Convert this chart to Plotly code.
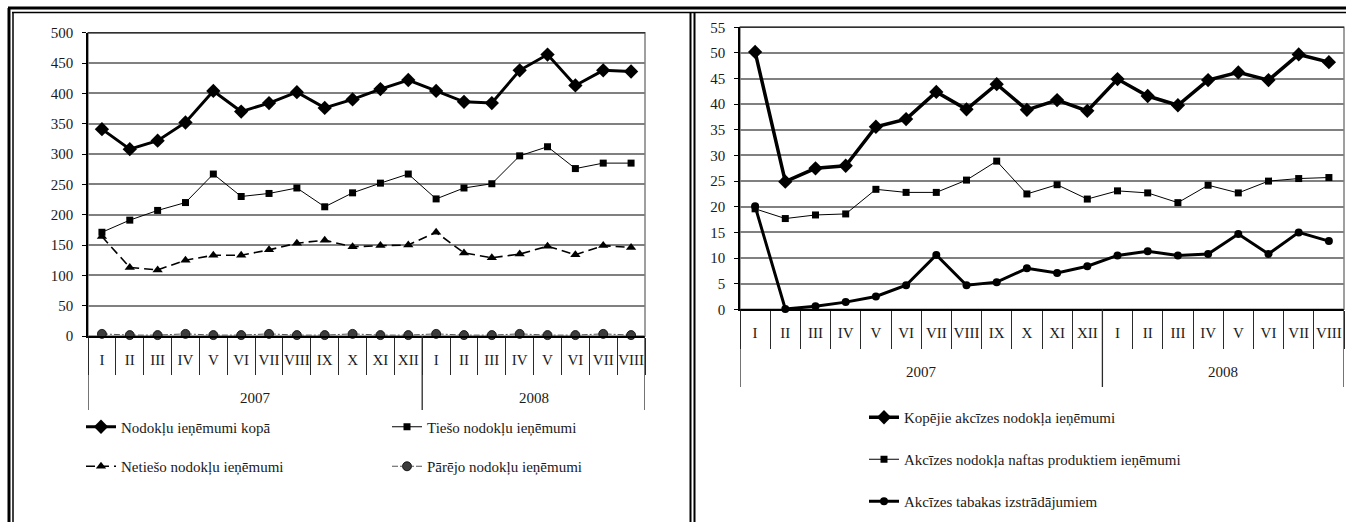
import plotly.graph_objects as go

W, H = 1346, 522

# ---------------- data ----------------
months = ["I", "II", "III", "IV", "V", "VI", "VII", "VIII", "IX", "X", "XI", "XII",
          "I", "II", "III", "IV", "V", "VI", "VII", "VIII"]
years = ["2007", "2008"]
year_counts = [12, 8]

# left chart
tax_total = [341, 308, 322, 352, 404, 370, 384, 402, 376, 390, 407, 422,
             404, 386, 384, 438, 464, 413, 438, 436]
tax_direct = [171, 191, 207, 220, 267, 230, 235, 244, 213, 236, 252, 267,
              226, 244, 251, 297, 312, 276, 285, 285]
tax_indirect = [164, 113, 109, 125, 133, 133, 142, 153, 158, 147, 149, 150,
                171, 137, 129, 135, 148, 134, 149, 146]
tax_other = [3.5, 1.5, 1.5, 3.5, 1.5, 1.5, 3.5, 1.5, 1.5, 3.5, 1.5, 1.5,
             3.5, 1.5, 1.5, 3.5, 1.5, 1.5, 3.5, 1.5]

# right chart
excise_total = [50.2, 24.9, 27.5, 28.0, 35.6, 37.1, 42.4, 39.0, 43.9, 38.9, 40.8, 38.7,
                44.9, 41.6, 39.8, 44.7, 46.2, 44.7, 49.7, 48.2]
excise_oil = [19.6, 17.7, 18.4, 18.6, 23.4, 22.8, 22.8, 25.2, 28.9, 22.5, 24.3, 21.5,
              23.1, 22.7, 20.8, 24.2, 22.7, 25.0, 25.5, 25.7]
excise_tobacco = [20.1, 0.06, 0.6, 1.4, 2.5, 4.7, 10.6, 4.7, 5.3, 8.0, 7.1, 8.4,
                  10.5, 11.3, 10.5, 10.8, 14.7, 10.8, 15.0, 13.3]

left_names = ["Nodokļu ieņēmumi kopā", "Tiešo nodokļu ieņēmumi",
              "Netiešo nodokļu ieņēmumi", "Pārējo nodokļu ieņēmumi"]
right_names = ["Kopējie akcīzes nodokļa ieņēmumi",
               "Akcīzes nodokļa naftas produktiem ieņēmumi",
               "Akcīzes tabakas izstrādājumiem"]

# ---------------- helpers ----------------
def fx(p):
    return p / W

def fy(p):
    return 1 - p / H

FONT = "Liberation Serif"
TXT = "#1a1a1a"
xs = list(range(len(months)))

fig = go.Figure()

# left traces
fig.add_trace(go.Scatter(x=xs, y=tax_total, name=left_names[0], mode="lines+markers",
                         line=dict(color="black", width=3),
                         marker=dict(symbol="diamond", size=11, color="black"),
                         xaxis="x", yaxis="y", legend="legend", legendgroup="a", cliponaxis=False))
fig.add_trace(go.Scatter(x=xs, y=tax_direct, name=left_names[1], mode="lines+markers",
                         line=dict(color="black", width=1),
                         marker=dict(symbol="square", size=7, color="black"),
                         xaxis="x", yaxis="y", legend="legend2", legendgroup="b", cliponaxis=False))
fig.add_trace(go.Scatter(x=xs, y=tax_indirect, name=left_names[2], mode="lines+markers",
                         line=dict(color="black", width=1.6, dash="9px,5px"),
                         marker=dict(symbol="triangle-up", size=9, color="black"),
                         xaxis="x", yaxis="y", legend="legend", legendgroup="c", cliponaxis=False))
fig.add_trace(go.Scatter(x=xs, y=tax_other, name=left_names[3], mode="lines+markers",
                         line=dict(color="#555555", width=1, dash="6px,2px,2px,2px"),
                         marker=dict(symbol="circle", size=9, color="#3c3c3c",
                                     line=dict(color="black", width=0.8)),
                         xaxis="x", yaxis="y", legend="legend2", legendgroup="d", cliponaxis=False))

# right traces
fig.add_trace(go.Scatter(x=xs, y=excise_total, name=right_names[0], mode="lines+markers",
                         line=dict(color="black", width=3.5),
                         marker=dict(symbol="diamond", size=11, color="black"),
                         xaxis="x2", yaxis="y2", legend="legend3", legendgroup="e", cliponaxis=False))
fig.add_trace(go.Scatter(x=xs, y=excise_oil, name=right_names[1], mode="lines+markers",
                         line=dict(color="black", width=1),
                         marker=dict(symbol="square", size=7, color="black"),
                         xaxis="x2", yaxis="y2", legend="legend3", legendgroup="f", cliponaxis=False))
fig.add_trace(go.Scatter(x=xs, y=excise_tobacco, name=right_names[2], mode="lines+markers",
                         line=dict(color="black", width=3),
                         marker=dict(symbol="circle", size=8, color="black"),
                         xaxis="x2", yaxis="y2", legend="legend3", legendgroup="g", cliponaxis=False))

# ---------------- axes ----------------
L = dict(x0=88, x1=645, ytop=32.7, ybot=336, tick_end=373, div_end=410, year_y=398)
R = dict(x0=740, x1=1344, ytop=27.3, ybot=309.3, tick_end=347, div_end=387, year_y=372)

def xaxis_cfg(P, anchor):
    return dict(domain=[fx(P["x0"]), fx(P["x1"])], range=[-0.5, len(months) - 0.5],
                tickmode="array", tickvals=xs, ticktext=months, ticks="",
                tickfont=dict(family=FONT, size=15, color=TXT),
                showgrid=False, zeroline=False, showline=True,
                linecolor="black", linewidth=2, ticklabelstandoff=9,
                minor=dict(tickmode="array", tickvals=[i - 0.5 for i in range(len(months) + 1)],
                           ticks="outside", ticklen=P["tick_end"] - P["ybot"],
                           tickcolor="#2a2a2a", tickwidth=1.3, showgrid=False),
                anchor=anchor, automargin=False, fixedrange=True)

def yaxis_cfg(P, rng, dt, anchor):
    return dict(domain=[fy(P["ybot"]), fy(P["ytop"])], range=rng, dtick=dt,
                tickfont=dict(family=FONT, size=15, color=TXT),
                showgrid=True, gridcolor="#808080", gridwidth=1.5,
                zeroline=False, showline=True, linecolor="black", linewidth=1.5,
                ticks="outside", ticklen=4, tickcolor="black", ticklabelstandoff=6,
                anchor=anchor, automargin=False, fixedrange=True)

leg_common = dict(font=dict(family=FONT, size=15, color=TXT), bgcolor="rgba(0,0,0,0)",
                  orientation="v", xanchor="left", yanchor="top", itemwidth=30,
                  traceorder="grouped")

fig.update_layout(
    width=W, height=H, margin=dict(l=0, r=0, t=0, b=0, pad=0, autoexpand=False),
    font=dict(family=FONT, size=15, color=TXT),
    paper_bgcolor="white", plot_bgcolor="white",
    xaxis=xaxis_cfg(L, "y"), yaxis=yaxis_cfg(L, [0, 500], 50, "x"),
    xaxis2=xaxis_cfg(R, "y2"), yaxis2=yaxis_cfg(R, [0, 55], 5, "x2"),
    showlegend=True,
    legend=dict(leg_common, x=fx(81), y=fy(410.5), tracegroupgap=17),
    legend2=dict(leg_common, x=fx(387), y=fy(410.5), tracegroupgap=17),
    legend3=dict(leg_common, x=fx(864), y=fy(401), tracegroupgap=19.5),
)

# ---------------- decorations ----------------
shapes = []
annotations = []
for P, xr, yr in [(L, "x", "y"), (R, "x2", "y2")]:
    shapes.append(dict(type="rect", xref=f"{xr} domain", yref=f"{yr} domain",
                       x0=0, x1=1, y0=0, y1=1, line=dict(color="#808080", width=1.5),
                       layer="below"))
    shapes.append(dict(type="line", xref=f"{xr} domain", yref=f"{yr} domain",
                       x0=0, x1=1, y0=1, y1=1, line=dict(color="#303030", width=1.5)))
    start = 0
    for yname, cnt in zip(years, year_counts):
        annotations.append(dict(xref=xr, yref="paper", x=start + (cnt - 1) / 2, y=fy(P["year_y"]),
                                text=yname, showarrow=False, xanchor="center", yanchor="middle",
                                font=dict(family=FONT, size=15, color=TXT)))
        start += cnt
    bounds = [-0.5]
    acc = -0.5
    for cnt in year_counts:
        acc += cnt
        bounds.append(acc)
    for b in bounds:
        shapes.append(dict(type="line", xref=xr, yref="paper", x0=b, x1=b,
                           y0=fy(P["ybot"]), y1=fy(P["div_end"]),
                           line=dict(color="#2a2a2a", width=1.3)))

def pline(x0, y0, x1, y1, w):
    return dict(type="line", xref="paper", yref="paper", x0=fx(x0), x1=fx(x1),
                y0=fy(y0), y1=fy(y1), line=dict(color="black", width=w))

shapes += [
    pline(8, 8, W, 8, 3), pline(12, 12.5, W, 12.5, 1.5),
    pline(9, 8, 9, H, 3), pline(13, 12.5, 13, H, 1.5),
    pline(690.5, 12.5, 690.5, H, 2), pline(694.5, 12.5, 694.5, H, 2),
]

fig.update_layout(shapes=shapes, annotations=annotations)

post = (
    "var gd=document.getElementById('{plot_id}');"
    "var de=document.documentElement, b=document.body;"
    "de.style.margin='0';de.style.padding='0';de.style.overflow='hidden';de.style.height='" + str(H) + "px';"
    "b.style.margin='0';b.style.padding='0';b.style.overflow='hidden';b.style.height='" + str(H) + "px';"
    "b.insertBefore(gd, b.firstChild);"
    "for (var i=b.children.length-1;i>0;i--){b.children[i].style.display='none';}"
    "gd.style.position='absolute';gd.style.left='0px';gd.style.top='0px';gd.style.margin='0';"
    "window.scrollTo(0,0);"
)
fig.write_html("out.html", config={"displayModeBar": False}, post_script=post)
